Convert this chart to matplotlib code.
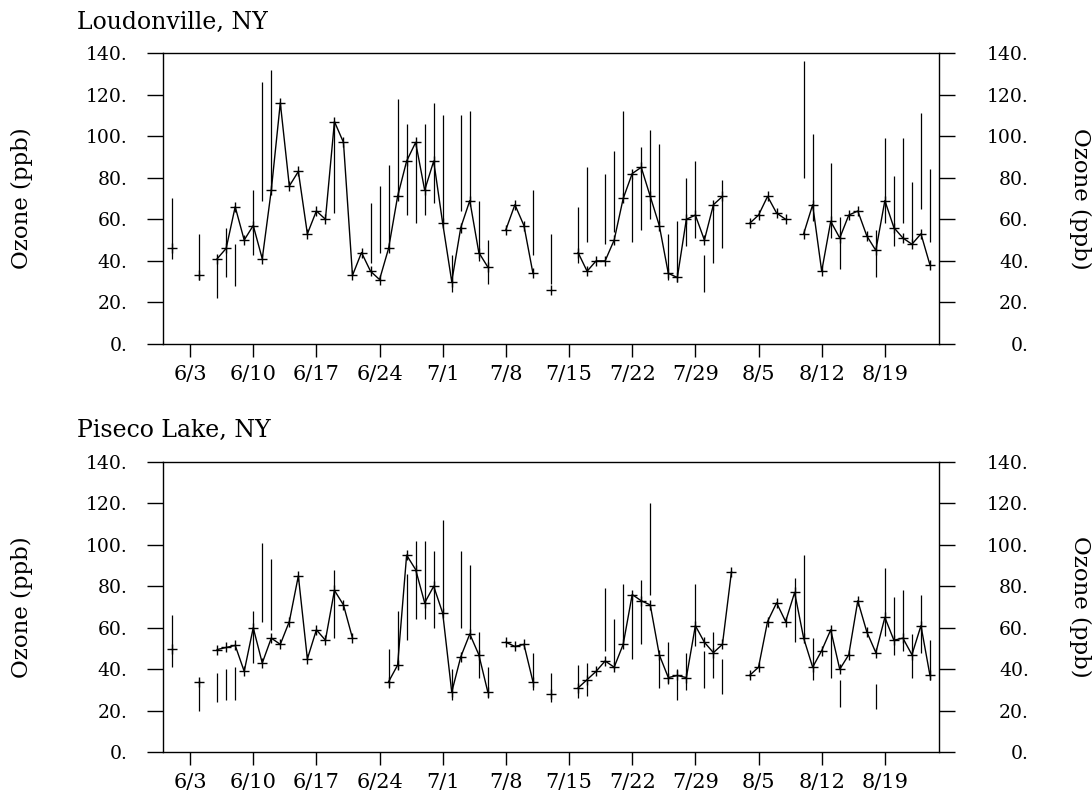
"""Daily ozone with hourly ranges at two New York sites, June-August."""

from datetime import date

import matplotlib

matplotlib.use("Agg")
import matplotlib.pyplot as plt
import matplotlib.transforms as mtransforms
import numpy as np

# Daily values, one per day starting June 1 (None = no data)
LOUDONVILLE = [
    46, None, None, 33, None, 41, 46, 66, 50, 57,
    41, 74, 116, 76, 83, 53, 64, 60, 107, 97,
    33, 44, 35, 31, 46, 71, 88, 97, 74, 88,
    58, 30, 56, 69, 44, 37, None, 55, 67, 57,
    34, None, 26, None, None, 44, 35, 40, 40, 50,
    70, 82, 85, 71, 57, 34, 32, 60, 62, 50,
    67, 71, None, None, 58, 62, 71, 63, 60, None,
    53, 67, 35, 59, 51, 62, 64, 52, 45, 69,
    56, 51, 48, 53, 38,
]
PISECO = [
    50, None, None, 34, None, 49.5, 50.5, 51.5, 39, 60,
    43, 55, 52, 63, 85, 45, 59, 54, 78, 71,
    55, None, None, None, 34, 42, 95, 88, 72, 80,
    67, 29, 46, 57, 47, 29, None, 53, 51, 52,
    34, None, 28, None, None, 31, 35, 39, 44, 41,
    52, 76, 73, 71, 47, 36, 37, 36, 61, 53,
    48, 52, 87, None, 37, 41, 63, 72, 63, 77,
    55, 41, 49, 59, 40, 47, 73, 58, 48, 65,
    54, 55, 47, 61, 37,
]

# Range bars: day index, low, high
LOUD_BAR_DAYS = [0, 3, 5, 6, 7, 9, 10, 11, 18, 22, 23, 24, 25, 26, 27, 28,
                 29, 30, 31, 32, 33, 34, 35, 40, 42, 45, 46, 48, 49, 50, 51,
                 52, 53, 54, 55, 56, 57, 58, 59, 60, 61, 70, 71, 73, 74, 78,
                 79, 80, 81, 82, 83, 84]
LOUD_BAR_LO = [41, 31, 22, 32, 28, 43, 69, 74, 63, 39, 44, 48, 71, 62, 58, 62,
               68, 58, 25, 64, 69, 40, 29, 43, 29, 39, 49, 48, 54, 70, 49,
               55, 60, 57, 31, 30, 47, 51, 25, 39, 46, 80, 59, 51, 36, 32,
               58, 47, 58, 48, 65, 49]
LOUD_BAR_HI = [70, 53, 41, 56, 48, 74, 126, 132, 107, 68, 76, 86, 118, 106, 97,
               106, 116, 110, 43, 110, 112, 69, 50, 74, 53, 66, 85, 82, 93, 112,
               80, 95, 103, 96, 53, 59, 80, 88, 43, 67, 79, 136, 101, 87, 61,
               55, 99, 81, 99, 78, 111, 84]

PIS_BAR_DAYS = [0, 3, 5, 6, 7, 9, 10, 11, 18, 24, 25, 26, 27, 28, 29, 30, 31,
                32, 33, 34, 35, 40, 42, 45, 46, 48, 49, 50, 51, 52, 53, 54, 55,
                56, 57, 58, 59, 60, 61, 69, 70, 71, 73, 74, 78, 79, 80, 81, 82,
                83, 84]
PIS_BAR_LO = [41, 20, 24, 25, 25, 43, 63, 59, 55, 31, 40, 54, 64, 64, 60, 67,
              25, 60, 57, 36, 26, 30, 24, 26, 27, 49, 40, 52, 45, 52, 76, 31,
              33, 25, 30, 51, 31, 36, 28, 53, 55, 35, 36, 22, 21, 56, 47, 49,
              36, 48, 35]
PIS_BAR_HI = [66, 35, 38, 40, 41, 68, 101, 93, 88, 50, 68, 86, 102, 102, 97,
              112, 40, 97, 90, 58, 41, 48, 38, 42, 43, 79, 64, 81, 76, 83, 120,
              47, 53, 40, 48, 81, 49, 58, 45, 84, 95, 55, 59, 35, 33, 89, 75,
              78, 57, 76, 54]

TICK_LABELS = ["6/3", "6/10", "6/17", "6/24", "7/1", "7/8", "7/15",
               "7/22", "7/29", "8/5", "8/12", "8/19"]
Y_TICKS = [0, 20, 40, 60, 80, 100, 120, 140]

FONT = "DejaVu Serif"
START = date(2001, 6, 1)


def day_of(label):
    m, d = (int(v) for v in label.split("/"))
    return (date(2001, m, d) - START).days


def draw_panel(ax, values, bar_days, bar_lo, bar_hi, title):
    y = np.array([np.nan if v is None else v for v in values], dtype=float)
    x = np.arange(len(y))

    ax.vlines(bar_days, bar_lo, bar_hi, color="black", linewidth=0.9)
    ax.plot(x, y, color="black", linewidth=1.0, marker="+",
            markersize=7.5, markeredgewidth=1.0)

    ax.set_xlim(-1, 85)
    ax.set_ylim(0, 140)

    ax.set_xticks([day_of(t) for t in TICK_LABELS])
    ax.set_xticklabels(TICK_LABELS, fontsize=15, family=FONT)
    ax.set_yticks(Y_TICKS)
    ax.set_yticklabels([f"{v}." for v in Y_TICKS], fontsize=13.5, family=FONT)

    ax.tick_params(axis="x", direction="out", length=9, width=1, pad=6)
    ax.tick_params(axis="y", direction="out", length=11.5, width=1, pad=14,
                   right=True, labelright=True)

    # Right-hand labels are right aligned, ending near x=1028 px
    fig = ax.figure
    offset = mtransforms.ScaledTranslation(0.74 - 14 / 72, 0,
                                           fig.dpi_scale_trans)
    for tick in ax.yaxis.get_major_ticks():
        tick.label2.set_horizontalalignment("right")
        tick.label2.set_fontsize(13.5)
        tick.label2.set_family(FONT)
        tick.label2.set_transform(tick.label2.get_transform() + offset)
    for spine in ax.spines.values():
        spine.set_linewidth(1.0)

    bb = ax.get_position()
    fig.text(77 / 1092, bb.y1 + 31 / 791, title, fontsize=17, family=FONT,
             ha="left", va="center")
    ymid = (bb.y0 + bb.y1) / 2
    fig.text(22 / 1092, ymid, "Ozone (ppb)", fontsize=16.5, family=FONT,
             rotation=90, ha="center", va="center")
    fig.text(1080 / 1092, ymid, "Ozone (ppb)", fontsize=16.5, family=FONT,
             rotation=270, ha="center", va="center")


fig = plt.figure(figsize=(10.92, 7.91), dpi=100)
ax1 = fig.add_axes([163 / 1092, 1 - 344 / 791, 776 / 1092, 291 / 791])
ax2 = fig.add_axes([163 / 1092, 1 - 752.3 / 791, 776 / 1092, 290.6 / 791])

draw_panel(ax1, LOUDONVILLE, LOUD_BAR_DAYS, LOUD_BAR_LO, LOUD_BAR_HI,
           "Loudonville, NY")
draw_panel(ax2, PISECO, PIS_BAR_DAYS, PIS_BAR_LO, PIS_BAR_HI,
           "Piseco Lake, NY")

fig.savefig("out.png", dpi=100)
